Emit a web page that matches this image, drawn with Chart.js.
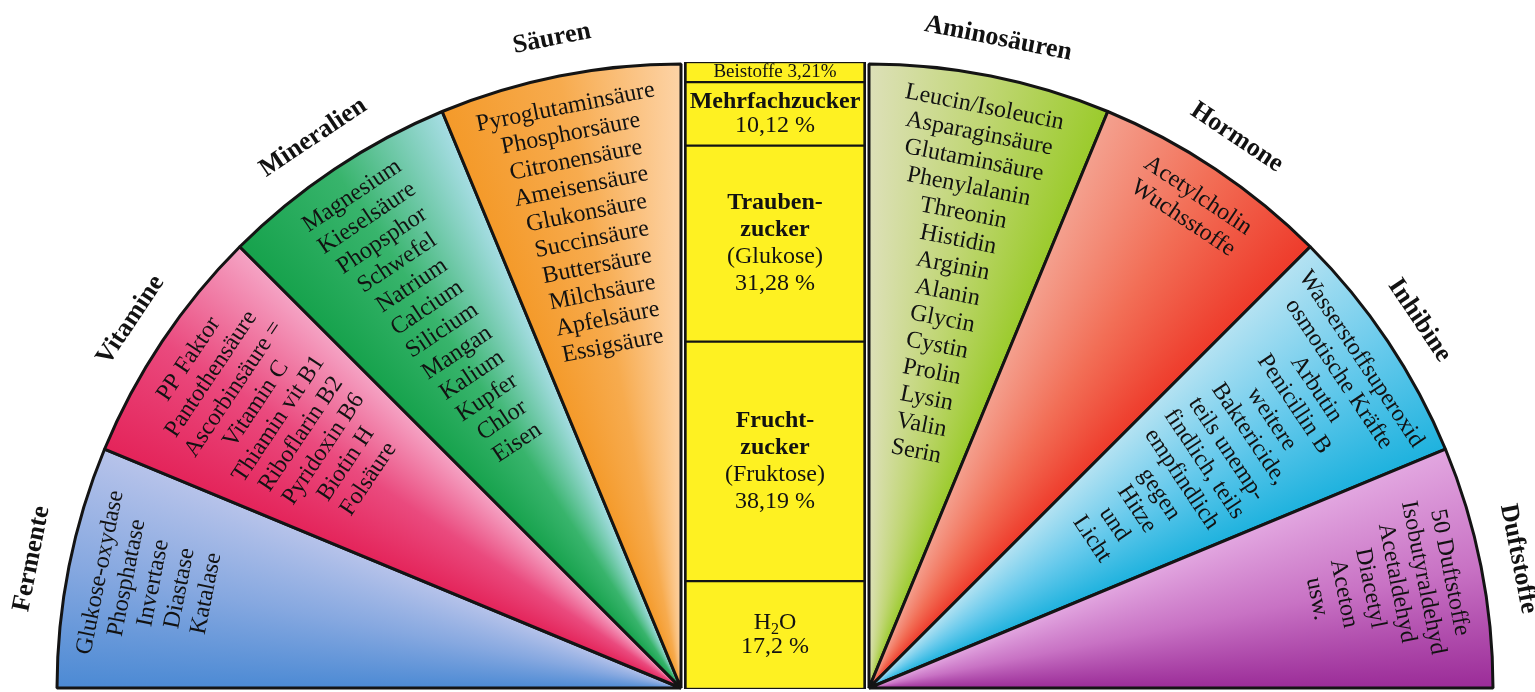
<!DOCTYPE html>
<html lang="de">
<head>
<meta charset="utf-8">
<title>Inhaltsstoffe des Honigs</title>
<script src="https://cdn.jsdelivr.net/npm/chart.js@4.4.1/dist/chart.umd.min.js"></script>
<style>
  html, body { margin: 0; padding: 0; background: #fff; overflow: hidden; }
  #page { position: relative; width: 1535px; height: 692px; }
  .box { position: absolute; }
  #leftBox { left: 0; top: 0; width: 684px; height: 692px; }
  #midBox { left: 684px; top: 62px; width: 182px; height: 627px; }
  #rightBox { left: 866px; top: 0; width: 669px; height: 692px; }
</style>
</head>
<body>
<div id="page">
  <div class="box" id="leftBox"><canvas id="leftChart"></canvas></div>
  <div class="box" id="midBox"><canvas id="midChart"></canvas></div>
  <div class="box" id="rightBox"><canvas id="rightChart"></canvas></div>
</div>
<script>
// Gruppen links (von unten nach oben) und rechts (von oben nach unten)
const leftGroups = ['Fermente', 'Vitamine', 'Mineralien', 'Säuren'];
const rightGroups = ['Aminosäuren', 'Hormone', 'Inhibine', 'Duftstoffe'];
const sectorShares = [1, 1, 1, 1]; // alle Sektoren gleich gross

const leftItems = [
  ['Glukose-oxydase', 'Phosphatase', 'Invertase', 'Diastase', 'Katalase'],
  ['PP Faktor', 'Pantothensäure', 'Ascorbinsäure =', 'Vitamin C', 'Thiamin vit B1',
   'Riboflarin B2', 'Pyridoxin B6', 'Biotin H', 'Folsäure'],
  ['Magnesium', 'Kieselsäure', 'Phopsphor', 'Schwefel', 'Natrium', 'Calcium',
   'Silicium', 'Mangan', 'Kalium', 'Kupfer', 'Chlor', 'Eisen'],
  ['Pyroglutaminsäure', 'Phosphorsäure', 'Citronensäure', 'Ameisensäure', 'Glukonsäure',
   'Succinsäure', 'Buttersäure', 'Milchsäure', 'Apfelsäure', 'Essigsäure']
];
const rightItems = [
  ['Leucin/Isoleucin', 'Asparaginsäure', 'Glutaminsäure', 'Phenylalanin', 'Threonin',
   'Histidin', 'Arginin', 'Alanin', 'Glycin', 'Cystin', 'Prolin', 'Lysin', 'Valin', 'Serin'],
  ['Acetylcholin', 'Wuchsstoffe'],
  ['Wasserstoffsuperoxid', 'osmotische Kräfte', 'Arbutin', 'Penicillin B', 'weitere',
   'Baktericide,', 'teils unemp-', 'findlich, teils', 'empfindlich', 'gegen', 'Hitze', 'und', 'Licht'],
  ['50 Duftstoffe', 'Isobutyraldehyd', 'Acetaldehyd', 'Diacetyl', 'Aceton', 'usw.']
];

// Mittelsaeule, von unten nach oben gestapelt
const sugarParts = ['H₂O', 'Fruchtzucker', 'Traubenzucker', 'Mehrfachzucker', 'Beistoffe'];
const sugarValues = [17.2, 38.19, 31.28, 10.12, 3.21];
const sugarHeads = [[], ['Frucht-', 'zucker'], ['Trauben-', 'zucker'], ['Mehrfachzucker'], []];
const sugarNotes = [['H₂O'], ['(Fruktose)'], ['(Glukose)'], [], []];

const SERIF = '"Liberation Serif", "Times New Roman", serif';
const INK = '#121212';
const LINE = '#141414';
const YELLOW = '#fef122';
// Farbverlauf je Sektor: Startkante, Mitte, Endkante
const leftFrom = ['#4c8ad4', '#e4245a', '#16a24c', '#f49a2a'];
const leftMid = ['#86a8e0', '#ea4a7e', '#38b46c', '#f7ab4e'];
const leftTo = ['#b7c3ea', '#f5a3c4', '#a6dde4', '#fdd3a6'];
const rightFrom = ['#dde0b8', '#f4a08e', '#b4e2f2', '#e2a6e0'];
const rightMid = ['#c0d674', '#f26e56', '#68caec', '#c872c4'];
const rightTo = ['#9bcb2c', '#ee3b2b', '#1eb2de', '#9b2c98'];

function sectorPlugin(items, fromCols, midCols, toCols) {
  return {
    id: 'sectorText',
    beforeDatasetsDraw(chart) {
      const ctx = chart.ctx;
      chart.getDatasetMeta(0).data.forEach((arc, i) => {
        const g = ctx.createConicGradient(arc.startAngle, arc.x, arc.y);
        const frac = (arc.endAngle - arc.startAngle) / (2 * Math.PI);
        g.addColorStop(0, fromCols[i]);
        g.addColorStop(frac / 2, midCols[i]);
        g.addColorStop(frac, toCols[i]);
        g.addColorStop(1, toCols[i]);
        arc.options.backgroundColor = g;
      });
    },
    afterDatasetsDraw(chart) {
      const ctx = chart.ctx;
      const names = chart.data.labels;
      chart.getDatasetMeta(0).data.forEach((arc, i) => {
        const mid = (arc.startAngle + arc.endAngle) / 2;
        ctx.save();
        ctx.translate(arc.x, arc.y);
        ctx.rotate(mid + Math.PI / 2);
        ctx.textAlign = 'center';
        ctx.textBaseline = 'middle';
        ctx.fillStyle = INK;
        ctx.font = 'bold 26px ' + SERIF;
        ctx.fillText(names[i], 0, -(arc.outerRadius + 38));
        ctx.font = '24px ' + SERIF;
        items[i].forEach((t, k) => {
          ctx.fillText(t, 0, -(arc.outerRadius - 32 - k * 27));
        });
        ctx.restore();
      });
    }
  };
}

function pieConfig(labels, items, rotation, padding, fromCols, midCols, toCols) {
  return {
    type: 'pie',
    data: {
      labels: labels,
      datasets: [{
        data: sectorShares,
        backgroundColor: fromCols,
        borderColor: LINE,
        borderWidth: 3
      }]
    },
    options: {
      responsive: true,
      maintainAspectRatio: false,
      animation: false,
      events: [],
      rotation: rotation,
      circumference: 90,
      layout: { padding: padding },
      plugins: { legend: { display: false }, tooltip: { enabled: false } }
    },
    plugins: [sectorPlugin(items, fromCols, midCols, toCols)]
  };
}

// Text mit tiefgestellter 2 (H2O)
function drawLine(ctx, t, x, y, size, bold) {
  const font = (bold ? 'bold ' : '') + size + 'px ' + SERIF;
  ctx.font = font;
  if (t.indexOf('₂') < 0) { ctx.fillText(t, x, y); return; }
  const parts = t.split('₂');
  const sub = Math.round(size * 0.65);
  const wa = ctx.measureText(parts[0]).width;
  const wb = ctx.measureText(parts[1]).width;
  ctx.font = sub + 'px ' + SERIF;
  const ws = ctx.measureText('2').width;
  let left = x - (wa + ws + wb) / 2;
  ctx.textAlign = 'left';
  ctx.font = font;
  ctx.fillText(parts[0], left, y);
  ctx.font = sub + 'px ' + SERIF;
  ctx.fillText('2', left + wa, y + size * 0.28);
  ctx.font = font;
  ctx.fillText(parts[1], left + wa + ws, y);
  ctx.textAlign = 'center';
}

const barTextPlugin = {
  id: 'barText',
  afterDatasetsDraw(chart) {
    const ctx = chart.ctx;
    ctx.save();
    ctx.textAlign = 'center';
    ctx.textBaseline = 'middle';
    ctx.fillStyle = INK;
    chart.data.datasets.forEach((ds, i) => {
      const bar = chart.getDatasetMeta(i).data[0];
      const top = Math.min(bar.y, bar.base);
      const bot = Math.max(bar.y, bar.base);
      const val = ds.data[0].toString().replace('.', ',');
      let lines;
      let size = 24;
      if (bot - top < 40) {
        lines = [{ t: ds.label + ' ' + val + '%', b: false }];
        size = 19;
      } else {
        lines = sugarHeads[i].map(t => ({ t: t, b: true }))
          .concat(sugarNotes[i].map(t => ({ t: t, b: false })))
          .concat([{ t: val + ' %', b: false }]);
      }
      const lh = lines.length > 2 ? 27 : 24;
      let y = (top + bot) / 2 - (lines.length - 1) * lh / 2;
      lines.forEach(l => {
        drawLine(ctx, l.t, bar.x, y, size, l.b);
        y += lh;
      });
    });
    ctx.restore();
  }
};

window.onload = () => {
  new Chart(document.getElementById('leftChart'),
    pieConfig(leftGroups, leftItems, -90,
      { left: 55.5, right: 1.5, top: 62.5, bottom: 2.5 }, leftFrom, leftMid, leftTo));

  new Chart(document.getElementById('rightChart'),
    pieConfig(rightGroups, rightItems, 0,
      { left: 1.5, right: 40.5, top: 62.5, bottom: 2.5 }, rightFrom, rightMid, rightTo));

  new Chart(document.getElementById('midChart'), {
    type: 'bar',
    data: {
      labels: ['Honig'],
      datasets: sugarParts.map((name, i) => ({
        label: name,
        data: [sugarValues[i]],
        backgroundColor: YELLOW,
        borderColor: LINE,
        borderWidth: { top: 1.5, bottom: 1.5, left: 3, right: 3 },
        borderSkipped: false,
        barPercentage: 1,
        categoryPercentage: 1
      }))
    },
    options: {
      responsive: true,
      maintainAspectRatio: false,
      animation: false,
      events: [],
      layout: { padding: 0 },
      scales: {
        x: { stacked: true, display: false },
        y: { stacked: true, display: false, min: 0, max: 100 }
      },
      plugins: { legend: { display: false }, tooltip: { enabled: false } }
    },
    plugins: [barTextPlugin]
  });
};
</script>
</body>
</html>
